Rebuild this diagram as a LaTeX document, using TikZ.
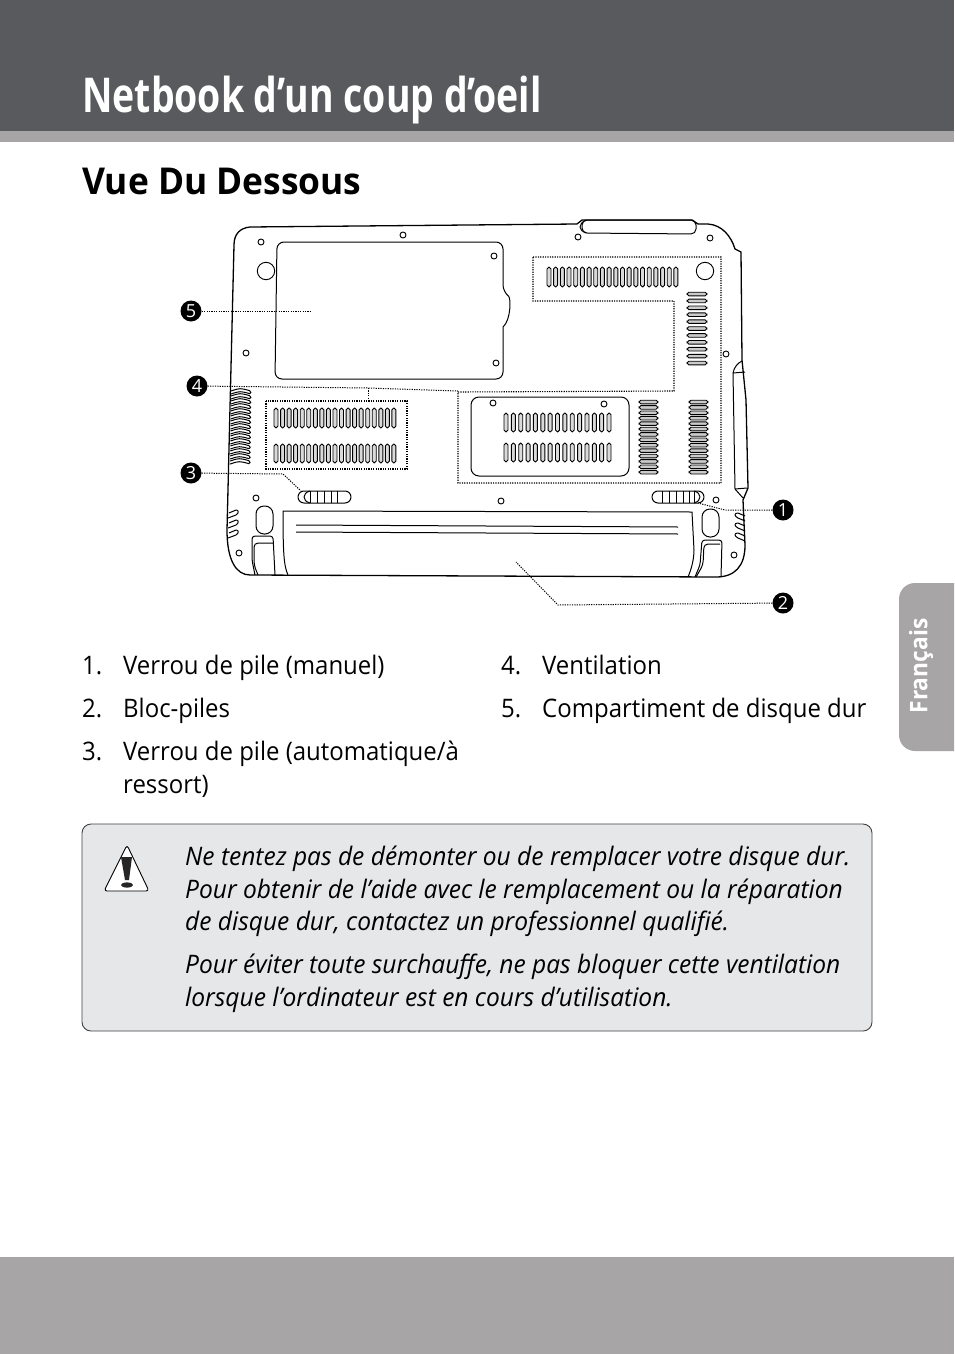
\documentclass[tikz,border=0pt]{standalone}
\usepackage{fontspec}
\setmainfont{Open Sans}[FakeStretch=0.94]
\setsansfont{Open Sans}
\newfontfamily\titlefont{Open Sans}[FakeStretch=0.78]
\newfontfamily\headfont{Open Sans}[FakeStretch=0.955]
\newfontfamily\notefont{Open Sans}[FakeStretch=0.962]
\definecolor{bandgray}{HTML}{595A5E}
\definecolor{stripgray}{HTML}{A7A5A6}
\definecolor{notegray}{HTML}{E6E7E8}
\definecolor{slotgray}{HTML}{B5B5B5}
\tikzset{
  body/.style={black,line width=1.3pt,line join=round},
  thinbody/.style={black,line width=1pt,line join=round},
  screw/.style={draw=black,line width=0.9pt,fill=white},
  vslot/.style={draw=black,line width=0.9pt,fill=slotgray!50,rounded corners=1.9pt},
  hslot/.style={draw=black,line width=0.9pt,fill=slotgray!70,rounded corners=1.9pt},
  dots/.style={black,line width=1.1pt,dash pattern=on 1.2pt off 1.2pt},
  leader/.style={black,line width=1pt,dash pattern=on 1.2pt off 1.2pt},
  callout/.style={circle,fill=black,text=white,inner sep=0pt,minimum size=21pt,font=\sffamily\fontsize{18}{18}\selectfont},
  txt/.style={anchor=base west,inner sep=0pt,font=\fontsize{25.5}{30}\selectfont},
  notetxt/.style={anchor=base west,inner sep=0pt,font=\notefont\itshape\fontsize{25.5}{30}\selectfont}
}
\begin{document}
\begin{tikzpicture}[x=1pt,y=-1pt]
  \useasboundingbox (0,0) rectangle (954,1354);
  % page bands
  \fill[bandgray] (0,0) rectangle (954,131);
  \fill[stripgray] (0,131) rectangle (954,142);
  \fill[stripgray] (0,1257) rectangle (954,1354);
  \fill[stripgray] (954,583) -- (915,583) arc[start angle=90,end angle=180,radius=16pt] -- (899,735) arc[start angle=180,end angle=270,radius=16pt] -- (954,751) -- cycle;
  \node[anchor=base west,inner sep=0pt,text=white,font=\titlefont\bfseries\fontsize{48}{50}\selectfont] (title) at (82,112) {Netbook d’un coup d’oeil};
  \node[anchor=base west,inner sep=0pt,font=\headfont\bfseries\fontsize{37}{40}\selectfont] (subtitle) at (82,194) {Vue Du Dessous};
  \node[rotate=90,text=white,inner sep=0pt,font=\bfseries\fontsize{24.2}{26}\selectfont] (tab) at (921,666) {Français};

  % netbook outline
  \draw[body] (250,227) -- (577,224) -- (582,220) -- (692,220) -- (698,224) -- (708,224)
    .. controls (722,225) and (731,236) .. (735,249) -- (741,252) -- (742,360) -- (746,400) -- (748,488) -- (743,500)
    -- (745,545) .. controls (745,566) and (735,577) .. (716,577) -- (250,575)
    .. controls (236,575) and (227,560) .. (227,530) -- (234,245) .. controls (234,234) and (240,228) .. (250,227);
  \draw[thinbody,rounded corners=5pt] (582,220) -- (696,220) -- (696,234) -- (582,233) -- cycle;
  \draw[thinbody] (586,220) .. controls (578,224) and (578,230) .. (586,233);
  % hard drive cover
  \draw[thinbody,rounded corners=7pt] (300,242) -- (503,242) -- (503,292) [sharp corners] .. controls (511,298) and (511,320) .. (503,327)
    [rounded corners=7pt] -- (503,379) -- (275,379) -- (277,242) -- cycle;
  % stylus
  \draw[thinbody] (733,373) .. controls (734,367) and (738,363) .. (742,361);
  \draw[thinbody] (733,373) -- (745,372);
  \draw[thinbody] (733,373) -- (735,489) -- (743,498);
  \draw[thinbody] (735,489) -- (747,488);
  % battery
  \draw[thinbody] (288,575) .. controls (284,566) and (283,555) .. (283,511) -- (692,512) -- (694,550) .. controls (694,560) and (691,570) .. (688,577);
  \draw[thinbody] (296,525) -- (678,527);
  \draw[thinbody] (296,532) -- (678,534);
  % grips
  \draw[thinbody,rounded corners=8pt] (256,506) rectangle (273,534);
  \draw[thinbody,rounded corners=3pt] (255,575) -- (252,560) -- (252,536) -- (273,536) -- (275,575);
  \draw[thinbody,rounded corners=4pt] (258,575) -- (254,565) -- (254,543) -- (273,543);
  \draw[thinbody,rounded corners=8pt] (702,509) rectangle (719,537);
  \draw[thinbody,rounded corners=3pt] (695,577) -- (700,565) -- (702,540) -- (722,540) -- (721,577);
  \draw[thinbody,rounded corners=4pt] (696,577) -- (703,565) -- (704,544) -- (720,544);

  % screws
  \foreach \x/\y in {261/242,403/235,246/353,494/256,496/363,578/237,710/238,726/354,493/403,604/404,256/498,239/553,501/501,716/500,734/555}
    \draw[screw] (\x,\y) circle[radius=3pt];
  \draw[screw] (266,271) circle[radius=8.7pt];
  \draw[screw] (705,271) circle[radius=8.7pt];

  % vents
  \foreach \i in {0,...,18} {
    \draw[vslot] ({276+6.55*\i-2},408) rectangle ({276+6.55*\i+2},428);
    \draw[vslot] ({276+6.55*\i-2},444) rectangle ({276+6.55*\i+2},463);
  }
  \foreach \i in {0,...,19}
    \draw[vslot] ({549+6.68*\i-2},267) rectangle ({549+6.68*\i+2},287);
  \foreach \i in {0,...,14} {
    \draw[vslot] ({506+7.36*\i-2},413) rectangle ({506+7.36*\i+2},432);
    \draw[vslot] ({506+7.36*\i-2},443) rectangle ({506+7.36*\i+2},462);
  }
  \foreach \i in {0,...,10}
    \draw[hslot] (687,{294+6.9*\i-1.8}) rectangle (707,{294+6.9*\i+1.8});
  \foreach \i in {0,...,13} {
    \draw[hslot] (639,{402+5.4*\i-1.8}) rectangle (658,{402+5.4*\i+1.8});
    \draw[hslot] (689,{402+5.4*\i-1.8}) rectangle (708,{402+5.4*\i+1.8});
  }
  \foreach \i in {0,...,14}
    \draw[thinbody,fill=white,rounded corners=1.5pt] ({231-0.06*\i},{391+5*\i}) .. controls ({240-0.06*\i},{388+5*\i}) .. ({251-0.06*\i},{391+5*\i}) -- ({251-0.06*\i},{394+5*\i}) .. controls ({240-0.06*\i},{391+5*\i}) .. ({231-0.06*\i},{394+5*\i});
  \foreach \y in {510,520,530}
    \draw[thinbody] (228,\y+8) -- (236,\y+5) .. controls (239,\y+3) and (239,\y) .. (236,\y) -- (229,\y+3);
  \foreach \y in {513,523,533}
    \draw[thinbody] (745,\y+8) -- (738,\y+5) .. controls (734,\y+3) and (734,\y) .. (738,\y) -- (745,\y+3);

  % latches
  \draw[thinbody,rounded corners=6pt] (298,491) rectangle (351,503);
  \draw[thinbody] (310,491) .. controls (302,493) and (302,501) .. (310,503);
  \foreach \x in {310,317,324,331,337} \draw[thinbody] (\x,491) -- (\x,503);
  \draw[thinbody,rounded corners=6pt] (652,491) rectangle (704,503);
  \draw[thinbody] (694,491) .. controls (702,493) and (702,501) .. (694,503);
  \foreach \x in {662,669,676,683,689,694} \draw[thinbody] (\x,491) -- (\x,503);
  % vent panel
  \draw[thinbody,rounded corners=8pt] (471,397) rectangle (629,476);

  % dotted areas
  \draw[dots] (266,401) rectangle (407,469);
  \draw[dots] (533,257) -- (721,257) -- (721,483) -- (458,483) -- (458,392) -- (674,391) -- (674,301) -- (533,301) -- cycle;

  % callouts
  \node[callout] (c1) at (783,510) {1};
  \node[callout] (c2) at (783,603) {2};
  \node[callout] (c3) at (191,473) {3};
  \node[callout] (c4) at (197,386) {4};
  \node[callout] (c5) at (191,311) {5};
  \coordinate (e1) at (698,503);
  \coordinate (k1) at (725,510);
  \coordinate (e2) at (516,562);
  \coordinate (k2) at (558,605);
  \coordinate (e3) at (301,491);
  \coordinate (k3) at (283,474);
  \coordinate (k4) at (368,388);
  \coordinate (e4) at (458,391);
  \coordinate (s4) at (368,401);
  \coordinate (e5) at (310,311);
  \draw[leader] (c1) -- (k1) -- (e1);
  \draw[leader] (c2) -- (k2) -- (e2);
  \draw[leader] (c3) -- (k3) -- (e3);
  \draw[leader] (c4) -- (k4) -- (e4);
  \draw[leader] (k4) -- (s4);
  \draw[leader] (c5) -- (e5);

  % list
  \node[txt] (n1) at (82,674) {1.};
  \node[txt] (t1) at (123,674) {Verrou de pile (manuel)};
  \node[txt] (n2) at (82,717) {2.};
  \node[txt] (t2) at (123,717) {Bloc-piles};
  \node[txt] (n3) at (82,760) {3.};
  \node[txt] (t3) at (123,760) {Verrou de pile (automatique/à};
  \node[txt] (t3b) at (123,793) {ressort)};
  \node[txt] (n4) at (501,674) {4.};
  \node[txt] (t4) at (542,674) {Ventilation};
  \node[txt] (n5) at (501,717) {5.};
  \node[txt] (t5) at (542,717) {Compartiment de disque dur};

  % note box
  \draw[draw=black!75,fill=notegray,line width=0.9pt,rounded corners=9pt] (82,824) rectangle (872,1031);
  \draw[black,line width=0.9pt,fill=white,line join=round,rounded corners=3pt] (127,845) -- (149,891) -- (104,891) -- cycle;
  \fill[black!85] (121,857) -- (132,857) -- (129,880) -- (125,880) -- cycle;
  \fill[black!85] (127,885) ellipse[x radius=6pt,y radius=2.6pt];
  \node[notetxt] (w1) at (185,865) {Ne tentez pas de démonter ou de remplacer votre disque dur.};
  \node[notetxt] (w2) at (185,898) {Pour obtenir de l’aide avec le remplacement ou la réparation};
  \node[notetxt] (w3) at (185,930) {de disque dur, contactez un professionnel qualifié.};
  \node[notetxt] (w4) at (185,973) {Pour éviter toute surchauffe, ne pas bloquer cette ventilation};
  \node[notetxt] (w5) at (185,1006) {lorsque l’ordinateur est en cours d’utilisation.};
\end{tikzpicture}
\end{document}
